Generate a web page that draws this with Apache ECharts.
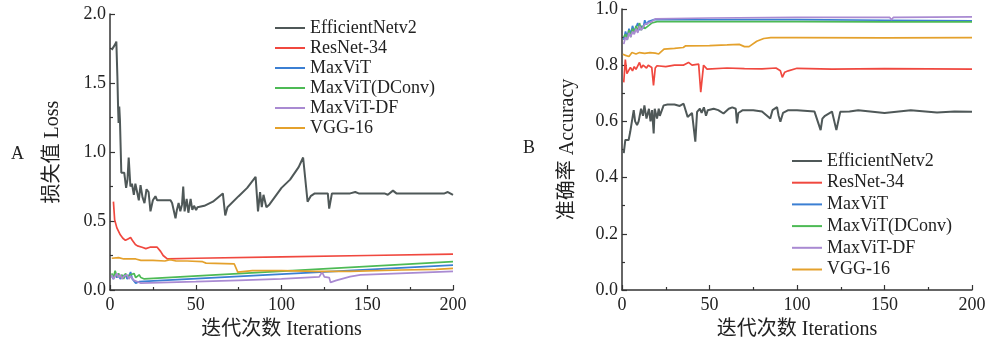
<!DOCTYPE html>
<html>
<head>
<meta charset="utf-8">
<script src="https://cdn.jsdelivr.net/npm/echarts@6/dist/echarts.min.js"></script>
<style>
html,body{margin:0;padding:0;background:#fff;}
#c{width:990px;height:345px;}
</style>
</head>
<body>
<div id="c"></div>
<script>
// ---- Data ----
const seriesNames = ['EfficientNetv2','ResNet-34','MaxViT','MaxViT(DConv)','MaxViT-DF','VGG-16'];
const xTicks = [0, 50, 100, 150, 200];
const lossTicks = [0.0, 0.5, 1.0, 1.5, 2.0];
const accTicks = [0.0, 0.2, 0.4, 0.6, 0.8, 1.0];

// Panel A: loss  ([iteration, value])
const lossEfficientNet = [[1,1.74],[2,1.74],[3,1.78],[3.7,1.80],[4.3,1.55],[4.7,1.33],[5,1.21],[5.4,1.33],[5.8,1.23],[6.6,0.85],[7.5,0.84],[8.3,0.85],[9.4,0.74],[10.2,0.80],[10.9,0.96],[11.9,0.75],[12.8,0.77],[13.9,0.69],[14.8,0.77],[15.8,0.76],[16.8,0.65],[17.8,0.76],[19,0.67],[20.1,0.63],[21.3,0.73],[22.5,0.71],[23.6,0.57],[25,0.65],[26.5,0.68],[27.5,0.65],[30,0.65],[33,0.65],[35.3,0.65],[36.2,0.63],[38.2,0.52],[39,0.58],[40,0.63],[41,0.57],[42,0.62],[42.7,0.75],[43.5,0.57],[44.7,0.66],[45.7,0.56],[47,0.66],[48,0.58],[49,0.61],[50.2,0.58],[51,0.60],[55,0.61],[60,0.64],[65.8,0.70],[67.2,0.54],[68.5,0.60],[75,0.68],[80,0.74],[84.9,0.82],[86.3,0.57],[87.5,0.71],[88.5,0.60],[89.5,0.69],[91.2,0.60],[93,0.62],[100,0.74],[105,0.80],[110,0.89],[112.6,0.96],[115.2,0.64],[117,0.68],[119.4,0.70],[127,0.70],[127.8,0.59],[129.4,0.70],[140,0.70],[143,0.71],[145,0.70],[160,0.70],[162,0.69],[165,0.72],[167,0.70],[190,0.70],[195,0.70],[197,0.71],[200,0.69]];
const lossResNet = [[2,0.64],[2.7,0.51],[4,0.45],[6,0.40],[7.5,0.375],[9,0.36],[10.5,0.37],[12,0.38],[13,0.36],[14.8,0.33],[16,0.32],[18.7,0.31],[20.9,0.30],[21.7,0.295],[23.3,0.31],[25,0.31],[27.5,0.31],[29.5,0.28],[31,0.25],[33.4,0.225],[50,0.23],[100,0.24],[150,0.25],[200,0.26]];
const lossMaxViT = [[1,0.10],[2,0.08],[3,0.12],[4,0.09],[5,0.11],[6,0.08],[7,0.10],[8,0.09],[9,0.11],[10,0.08],[11,0.10],[12,0.13],[13,0.08],[14,0.07],[15,0.05],[16,0.06],[17,0.06],[200,0.18]];
const lossDConv = [[1,0.12],[2,0.09],[3,0.14],[4,0.10],[5,0.12],[6,0.09],[7,0.11],[8,0.08],[9,0.12],[10,0.10],[11,0.09],[12,0.11],[13,0.10],[14,0.12],[15,0.09],[16,0.10],[17,0.11],[18,0.09],[20,0.08],[200,0.205]];
const lossDF = [[1,0.11],[2,0.08],[3,0.10],[4,0.12],[5,0.09],[6,0.11],[7,0.08],[8,0.10],[9,0.09],[10,0.11],[11,0.08],[12,0.10],[13,0.09],[14,0.07],[16,0.06],[18,0.05],[50,0.06],[75,0.07],[100,0.08],[122,0.095],[123.7,0.13],[125,0.095],[127.8,0.09],[128.6,0.055],[132,0.07],[140,0.097],[146,0.11],[200,0.135]];
const lossVGG = [[1,0.23],[5,0.235],[8,0.225],[15,0.225],[18,0.215],[25,0.215],[32,0.21],[35,0.22],[38.5,0.21],[45,0.21],[54,0.205],[56,0.195],[72.4,0.19],[74.5,0.13],[83,0.14],[100,0.14],[120,0.135],[130,0.135],[140,0.135],[170,0.145],[190,0.15],[200,0.157]];

// Panel B: accuracy ([iteration, value])
const accEfficientNet = [[1,0.487],[1.9,0.534],[3.8,0.534],[4.7,0.563],[6.7,0.64],[7.5,0.60],[8.6,0.587],[9.5,0.60],[10.9,0.645],[12,0.62],[12.8,0.657],[14,0.61],[15.4,0.645],[16.3,0.60],[17.2,0.64],[18.1,0.557],[18.7,0.645],[20,0.61],[21,0.645],[21.6,0.62],[23.8,0.657],[26,0.66],[30,0.66],[33,0.655],[35.2,0.663],[36,0.67],[37.5,0.616],[38.5,0.61],[40,0.63],[41.9,0.528],[42.9,0.634],[44.5,0.645],[45.5,0.63],[46.8,0.65],[48,0.62],[49,0.64],[52.4,0.645],[55,0.64],[58,0.628],[61,0.645],[63,0.65],[65,0.645],[65.7,0.593],[66.5,0.63],[69,0.64],[75,0.64],[80,0.635],[84.7,0.61],[86,0.64],[88.6,0.651],[89.5,0.62],[90.5,0.599],[92,0.63],[95,0.64],[100,0.64],[110,0.635],[113.5,0.569],[114.5,0.61],[116,0.62],[120,0.635],[122.5,0.569],[124.7,0.634],[130,0.635],[135,0.64],[150,0.63],[165,0.64],[180,0.632],[190,0.635],[200,0.634]];
const accResNet = [[1,0.739],[1.9,0.82],[2.8,0.77],[3.8,0.775],[4.8,0.792],[6,0.78],[7,0.795],[8,0.785],[10,0.81],[11,0.79],[12,0.80],[14,0.79],[15,0.80],[17,0.792],[18,0.728],[19,0.79],[20,0.798],[25,0.795],[30,0.80],[35,0.80],[38,0.81],[40,0.80],[43.8,0.804],[45,0.704],[46.6,0.80],[48.6,0.786],[60,0.79],[70,0.788],[80,0.787],[88,0.79],[90.5,0.78],[91.6,0.757],[93,0.775],[95,0.78],[100,0.789],[120,0.786],[150,0.788],[200,0.786]];
const accMaxViT = [[1,0.89],[2,0.92],[3,0.90],[4,0.93],[5,0.91],[6,0.94],[7,0.92],[8,0.935],[9,0.95],[10,0.925],[11,0.94],[12,0.93],[13,0.96],[14,0.945],[15,0.955],[16,0.95],[18,0.962],[25,0.963],[50,0.962],[100,0.962],[150,0.96],[200,0.958]];
const accDConv = [[1,0.90],[2,0.91],[3,0.89],[4,0.925],[5,0.90],[6,0.93],[7,0.915],[8,0.94],[9,0.92],[10,0.95],[11,0.925],[12,0.94],[13,0.93],[14,0.935],[15,0.94],[17,0.95],[20,0.955],[50,0.955],[100,0.955],[150,0.954],[200,0.954]];
const accDF = [[1,0.875],[2,0.90],[3,0.89],[4,0.915],[5,0.90],[6,0.92],[7,0.91],[8,0.93],[9,0.915],[10,0.94],[11,0.925],[12,0.935],[13,0.945],[14,0.94],[15,0.95],[17,0.955],[19,0.965],[50,0.968],[100,0.97],[150,0.97],[153,0.97],[154,0.962],[155,0.97],[200,0.972]];
const accVGG = [[0.5,0.839],[2,0.835],[4,0.831],[5.7,0.845],[8,0.84],[10,0.845],[13,0.842],[16,0.845],[19,0.843],[21,0.84],[24,0.857],[30,0.86],[35,0.863],[36.4,0.869],[50,0.87],[60,0.872],[67,0.874],[70,0.866],[72.6,0.866],[77,0.885],[81,0.895],[85,0.898],[100,0.898],[150,0.897],[200,0.898]];

// ---- Style ----
const colors = ['#4f5858','#f0483f','#3b7fd3','#4dba55','#a98ad2','#e4a12c'];
const widths = [2, 1.7, 1.7, 1.7, 1.7, 1.7];
const FONT = "'Liberation Serif','Noto Sans CJK SC',serif";
const TXT = '#222';

const lossData = [lossEfficientNet, lossResNet, lossMaxViT, lossDConv, lossDF, lossVGG];
const accData = [accEfficientNet, accResNet, accMaxViT, accDConv, accDF, accVGG];

function xAxisCfg(gi) {
  return {
    gridIndex: gi, type: 'value', min: xTicks[0], max: xTicks[xTicks.length-1], interval: 50,
    name: '迭代次数 Iterations', nameLocation: 'middle', nameGap: 30,
    nameTextStyle: {fontFamily: FONT, fontSize: 20, color: TXT},
    axisLine: {show: true, lineStyle: {color: '#333', width: 1.5}},
    axisTick: {show: true, inside: true, length: 5, lineStyle: {color: '#333', width: 1.2}},
    minorTick: {show: true, splitNumber: 2, length: 3, lineStyle: {color: '#333', width: 1.2}},
    axisLabel: {fontFamily: FONT, fontSize: 18, color: TXT, margin: 6},
    splitLine: {show: false}
  };
}
function yAxisCfg(gi, name, max, interval, gap, decimals) {
  return {
    gridIndex: gi, type: 'value', min: 0, max: max, interval: interval,
    name: name, nameLocation: 'middle', nameGap: gap,
    nameTextStyle: {fontFamily: FONT, fontSize: 20, color: TXT},
    axisLine: {show: true, lineStyle: {color: '#333', width: 1.5}},
    axisTick: {show: true, inside: true, length: 5, lineStyle: {color: '#333', width: 1.2}},
    minorTick: {show: true, splitNumber: 2, length: 3, lineStyle: {color: '#333', width: 1.2}},
    axisLabel: {fontFamily: FONT, fontSize: 18, color: TXT, margin: 4,
      formatter: v => v.toFixed(decimals)},
    splitLine: {show: false}
  };
}

const series = [];
seriesNames.forEach((n, i) => {
  series.push({name: n, type: 'line', xAxisIndex: 0, yAxisIndex: 0, data: lossData[i],
    symbol: 'none', lineStyle: {width: widths[i], color: colors[i]}, itemStyle: {color: colors[i]}});
});
seriesNames.forEach((n, i) => {
  series.push({name: n, type: 'line', xAxisIndex: 1, yAxisIndex: 1, data: accData[i],
    symbol: 'none', lineStyle: {width: widths[i], color: colors[i]}, itemStyle: {color: colors[i]}});
});

const legendBase = {
  data: seriesNames, orient: 'vertical', icon: 'rect', itemWidth: 30, itemHeight: 2,
  textStyle: {fontFamily: FONT, fontSize: 18, color: TXT, lineHeight: 20},
  selectedMode: false
};

const option = {
  animation: false,
  backgroundColor: '#fff',
  color: colors,
  grid: [
    {left: 110, right: 537, top: 14, bottom: 55},
    {left: 622, right: 18, top: 6, bottom: 55}
  ],
  xAxis: [xAxisCfg(0), xAxisCfg(1)],
  yAxis: [
    yAxisCfg(0, '损失值 Loss', 2.0, 0.5, 47, 1),
    yAxisCfg(1, '准确率 Accuracy', 1.0, 0.2, 44, 1)
  ],
  legend: [
    Object.assign({}, legendBase, {left: 270, top: 13, itemGap: 0}),
    Object.assign({}, legendBase, {left: 787, top: 146, itemGap: 1.7})
  ],
  graphic: [
    {type: 'text', left: 11, top: 145, style: {text: 'A', font: "18px 'Liberation Serif'", fill: TXT}},
    {type: 'text', left: 523, top: 139, style: {text: 'B', font: "18px 'Liberation Serif'", fill: TXT}}
  ],
  series: series
};

const chart = echarts.init(document.getElementById('c'), null, {renderer: 'canvas'});
chart.setOption(option);
</script>
</body>
</html>
